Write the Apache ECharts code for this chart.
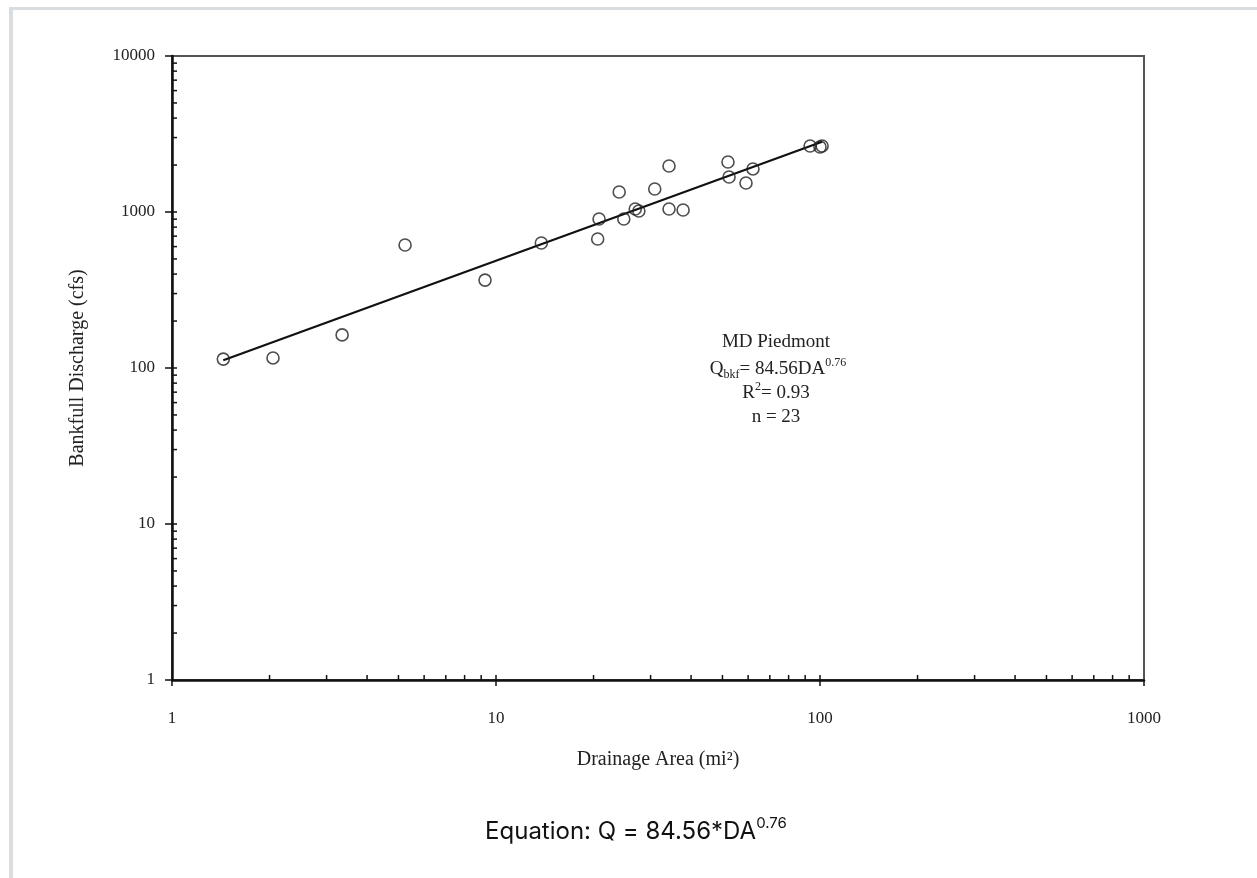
<!DOCTYPE html>
<html><head><meta charset="utf-8">
<script src="https://cdn.jsdelivr.net/npm/echarts@6/dist/echarts.min.js"></script>
<style>html,body{margin:0;padding:0;background:#fff}#chart{width:1257px;height:878px}</style>
</head><body><div id="chart"></div>
<script>
const drainageArea = [1.44, 2.05, 3.35, 5.24, 9.25, 13.8, 20.6, 20.8, 24.0, 24.8, 26.9, 27.6, 30.9, 34.2, 34.2, 37.8, 52.0, 52.4, 59.1, 62.1, 93.2, 100, 101.5];
const discharge    = [114, 116, 163, 614, 366, 633, 671, 902, 1343, 902, 1045, 1015, 1404, 1972, 1045, 1030, 2092, 1676, 1535, 1888, 2649, 2610, 2649];
// Regression line end points (as drawn)
const fitArea = [1.44, 101.5];
const fitQ    = [112, 2820];
// Axis tick values
const xMinorTicks = [2,3,4,5,6,7,8,9,10,20,30,40,50,60,70,80,90,100,200,300,400,500,600,700,800,900];
const yMinorTicks = [2,3,4,5,6,7,8,9,10,20,30,40,50,60,70,80,90,100,200,300,400,500,600,700,800,900,1000,2000,3000,4000,5000,6000,7000,8000,9000];

const SERIF = '"Liberation Serif", "Times New Roman", serif';
const SANS = 'Inter, "Noto Sans", sans-serif';
const ink = '#111';

const chart = echarts.init(document.getElementById('chart'));

function tickSeries(vals, isX) {
  return {
    type: 'custom',
    silent: true,
    clip: false,
    z: 5,
    data: vals.map(v => isX ? [v, 1] : [1, v]),
    renderItem: function (params, api) {
      const p = api.coord([api.value(0), api.value(1)]);
      return {
        type: 'line',
        shape: isX ? {x1: p[0], y1: p[1], x2: p[0], y2: p[1] - 5}
                   : {x1: p[0], y1: p[1], x2: p[0] + 5, y2: p[1]},
        style: {stroke: ink, lineWidth: 1.5}
      };
    }
  };
}

const plainNum = v => String(Math.round(v));

const option = {
  animation: false,
  backgroundColor: '#fff',
  grid: {left: 172, top: 56, right: 113, bottom: 198, show: true, borderColor: '#555', borderWidth: 2, backgroundColor: 'transparent'},
  xAxis: {
    type: 'log', logBase: 10, min: 1, max: 1000,
    name: 'Drainage Area (mi²)', nameLocation: 'middle', nameGap: 70,
    nameTextStyle: {fontFamily: SERIF, fontSize: 20, color: '#222'},
    axisLine: {lineStyle: {color: ink, width: 2.5}},
    axisTick: {show: true, length: 6, lineStyle: {color: ink, width: 1.5}},
    minorTick: {show: false},
    axisLabel: {fontFamily: SERIF, fontSize: 17, color: '#222', margin: 30, formatter: plainNum},
    splitLine: {show: false}
  },
  yAxis: {
    type: 'log', logBase: 10, min: 1, max: 10000,
    name: 'Bankfull Discharge (cfs)', nameLocation: 'middle', nameGap: 84, nameRotate: 90,
    nameTextStyle: {fontFamily: SERIF, fontSize: 20, color: '#222'},
    axisLine: {lineStyle: {color: ink, width: 2.5}},
    axisTick: {show: true, length: 7, lineStyle: {color: ink, width: 1.5}},
    axisLabel: {fontFamily: SERIF, fontSize: 17, color: '#222', margin: 17, formatter: plainNum},
    splitLine: {show: false}
  },
  series: [
    {
      type: 'line',
      data: fitArea.map((a, i) => [a, fitQ[i]]),
      symbol: 'none',
      lineStyle: {color: ink, width: 2.2},
      z: 3
    },
    {
      type: 'scatter',
      data: drainageArea.map((a, i) => [a, discharge[i]]),
      symbol: 'circle',
      symbolSize: 12,
      itemStyle: {color: 'transparent', borderColor: '#222', borderWidth: 1.6},
      z: 4
    },
    tickSeries(xMinorTicks, true),
    tickSeries(yMinorTicks, false)
  ],
  graphic: [
    {type: 'rect', shape: {x: 9, y: 7, width: 1248, height: 3}, style: {fill: '#dadde0'}, silent: true},
    {type: 'rect', shape: {x: 9, y: 7, width: 4, height: 871}, style: {fill: '#dadde0'}, silent: true},
    {type: 'text', x: 776, y: 342, style: {text: 'MD Piedmont', fontFamily: SERIF, fontSize: 19, fill: '#222', align: 'center', verticalAlign: 'middle'}},
    {type: 'text', x: 778, y: 369, style: {
      text: '{n|Q}{sub|bkf}{n|= 84.56DA}{sup|0.76}', align: 'center', verticalAlign: 'middle',
      rich: {
        n: {fontFamily: SERIF, fontSize: 19, fill: '#222', lineHeight: 24},
        sub: {fontFamily: SERIF, fontSize: 12, fill: '#222', lineHeight: 12, verticalAlign: 'bottom'},
        sup: {fontFamily: SERIF, fontSize: 12, fill: '#222', lineHeight: 12, verticalAlign: 'top'}
      }}},
    {type: 'text', x: 776, y: 393, style: {
      text: '{n|R}{sup|2}{n|= 0.93}', align: 'center', verticalAlign: 'middle',
      rich: {
        n: {fontFamily: SERIF, fontSize: 19, fill: '#222', lineHeight: 24},
        sup: {fontFamily: SERIF, fontSize: 12, fill: '#222', lineHeight: 12, verticalAlign: 'top'}
      }}},
    {type: 'text', x: 776, y: 417, style: {text: 'n = 23', fontFamily: SERIF, fontSize: 19, fill: '#222', align: 'center', verticalAlign: 'middle'}},
    {type: 'text', x: 636, y: 832, style: {
      text: '{n|Equation: Q = 84.56*DA}{sup|0.76}', align: 'center', verticalAlign: 'middle',
      rich: {
        n: {fontFamily: SANS, fontSize: 24, fill: '#111', lineHeight: 32},
        sup: {fontFamily: SANS, fontSize: 15, fill: '#111', lineHeight: 16, verticalAlign: 'top'}
      }}}
  ]
};
chart.setOption(option);
</script>
</body></html>
